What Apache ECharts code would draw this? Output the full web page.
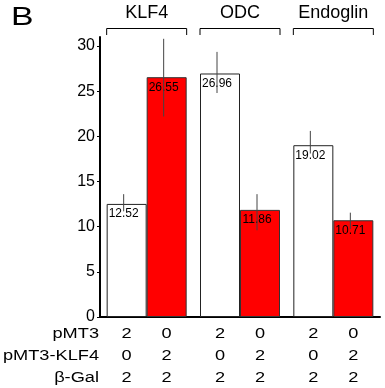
<!DOCTYPE html>
<html><head><meta charset="utf-8">
<script src="https://cdn.jsdelivr.net/npm/echarts@6/dist/echarts.min.js"></script>
<style>html,body{margin:0;padding:0;background:#fff}#c{width:385px;height:388px}</style>
</head><body><div id="c"></div>
<script>
// ---- data ----
const groups = ['KLF4', 'ODC', 'Endoglin'];
const controlValues = [12.52, 26.96, 19.02];   // white bars (pMT3)
const klf4Values = [26.55, 11.86, 10.71];      // red bars (pMT3-KLF4)
const controlErrLow = [11.7, 24.8, 18.1];
const controlErrHigh = [13.6, 29.35, 20.6];
const klf4ErrLow = [22.2, 9.6, 9.75];
const klf4ErrHigh = [30.8, 13.6, 11.55];
const yTicks = [0, 5, 10, 15, 20, 25, 30];
const rowNames = ['pMT3', 'pMT3-KLF4', 'β-Gal'];
const rowPMT3 = [2, 0, 2, 0, 2, 0];
const rowPMT3KLF4 = [0, 2, 0, 2, 0, 2];
const rowBetaGal = [2, 2, 2, 2, 2, 2];

// ---- chart ----
const FONT = '"Liberation Sans", Arial, sans-serif';
const BAR_W = 40;
const chart = echarts.init(document.getElementById('c'), null, {renderer: 'canvas'});

const errData = [];
groups.forEach((g, i) => {
  errData.push([i, 0, controlErrLow[i], controlErrHigh[i]]);
  errData.push([i, 1, klf4ErrLow[i], klf4ErrHigh[i]]);
});
const tableRows = [rowPMT3, rowPMT3KLF4, rowBetaGal];
const tableData = [];
tableRows.forEach((row, r) => {
  row.forEach((v, k) => tableData.push([Math.floor(k / 2), k % 2, r, v]));
});

const option = {
  animation: false,
  backgroundColor: '#fff',
  grid: {left: 100, right: 5, top: 37, bottom: 71},
  xAxis: [{
    type: 'category', data: groups, position: 'bottom',
    axisLine: {lineStyle: {color: '#000', width: 2}},
    axisTick: {show: false}, axisLabel: {show: false}
  }, {
    type: 'category', data: groups, position: 'top',
    axisLine: {show: false}, axisTick: {show: false},
    axisLabel: {fontSize: 18, color: '#000', fontFamily: FONT, margin: 15}
  }],
  yAxis: {
    type: 'value', min: 0, max: 31, interval: 5,
    axisLine: {show: true, lineStyle: {color: '#000', width: 2}},
    axisTick: {show: true, length: 3, customValues: yTicks, lineStyle: {color: '#000'}},
    axisLabel: {fontSize: 16, color: '#000', fontFamily: FONT, margin: 5, customValues: yTicks},
    splitLine: {show: false}
  },
  graphic: [
    {type: 'text', x: 11, y: 18, scaleX: 1.3, style: {text: 'B', fontSize: 26, fontFamily: FONT, fill: '#000', verticalAlign: 'middle', align: 'left'}}
  ].concat(rowNames.map((n, r) => ({
    type: 'text', x: 99, y: 334.5 + r * 21.6, scaleX: 1.3,
    style: {text: n, fontSize: 14, fontFamily: FONT, fill: '#000', align: 'right', verticalAlign: 'middle'}
  }))),
  series: [{
    type: 'bar', data: controlValues, barWidth: BAR_W, barGap: '0%',
    itemStyle: {color: '#fff', borderColor: '#222', borderWidth: 1},
    label: {show: true, position: 'insideTop', distance: 4, offset: [-3, 0], fontSize: 12, color: '#000', fontFamily: FONT, formatter: p => p.value.toFixed(2)}
  }, {
    type: 'bar', data: klf4Values, barWidth: BAR_W, barGap: '0%',
    itemStyle: {color: '#ff0000', borderColor: '#333', borderWidth: 1},
    label: {show: true, position: 'insideTop', distance: 4, offset: [-3, 0], fontSize: 12, color: '#000', fontFamily: FONT, formatter: p => p.value.toFixed(2)}
  }, {
    type: 'custom', z: 10, clip: false, data: errData,
    renderItem: (params, api) => {
      const x = api.coord([api.value(0), 0])[0] + (api.value(1) ? 1 : -1) * BAR_W / 2 - 3;
      const y1 = api.coord([api.value(0), api.value(2)])[1];
      const y2 = api.coord([api.value(0), api.value(3)])[1];
      return {type: 'line', shape: {x1: x, y1: y1, x2: x, y2: y2}, style: {stroke: '#444', lineWidth: 1}};
    }
  }, {
    type: 'custom', z: 10, clip: false, data: groups.map((g, i) => [i]),
    renderItem: (params, api) => {
      const cx = api.coord([api.value(0), 0])[0];
      const top = api.coord([api.value(0), 31])[1];
      const y = top - 8.5, yb = top - 2;
      return {type: 'polyline', shape: {points: [[cx - BAR_W, yb], [cx - BAR_W, y], [cx + BAR_W, y], [cx + BAR_W, yb]]}, style: {stroke: '#000', lineWidth: 1, fill: null}};
    }
  }, {
    type: 'custom', z: 10, clip: false, data: tableData,
    renderItem: (params, api) => {
      const p = api.coord([api.value(0), 0]);
      const x = p[0] + (api.value(1) ? 1 : -1) * BAR_W / 2;
      const y = p[1] + 17.5 + api.value(2) * 21.6;
      return {type: 'text', x: x, y: y, scaleX: 1.3, style: {text: String(api.value(3)), fontSize: 14, fontFamily: FONT, fill: '#000', align: 'center', verticalAlign: 'middle'}};
    }
  }]
};
chart.setOption(option);
</script></body></html>
